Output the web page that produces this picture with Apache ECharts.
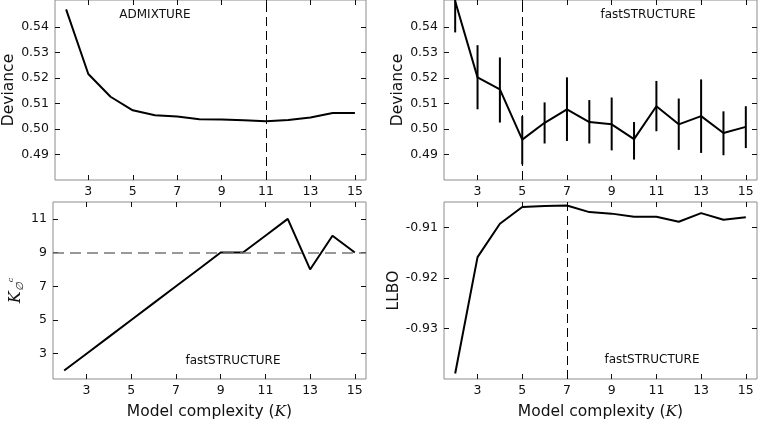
<!DOCTYPE html>
<html><head><meta charset="utf-8">
<script src="https://cdn.jsdelivr.net/npm/echarts@6/dist/echarts.min.js"></script>
<style>html,body{margin:0;padding:0;background:#fff}#c{width:759px;height:421px}</style>
</head><body><div id="c"></div>
<script>
// ---- data ----
const K = [2,3,4,5,6,7,8,9,10,11,12,13,14,15];
const admixDeviance = [0.5468,0.5215,0.5126,0.5073,0.5054,0.5049,0.5038,0.5037,0.5034,0.5030,0.5035,0.5045,0.5062,0.5062];
const fastDevianceMean = [0.5500,0.5202,0.5155,0.4958,0.5024,0.5077,0.5027,0.5018,0.4960,0.5089,0.5018,0.5050,0.4984,0.5008];
const fastDevianceLow  = [0.5378,0.5077,0.5025,0.4861,0.4943,0.4953,0.4943,0.4916,0.4880,0.4991,0.4918,0.4906,0.4897,0.4925];
const fastDevianceHigh = [0.5622,0.5328,0.5280,0.5050,0.5104,0.5202,0.5113,0.5123,0.5027,0.5188,0.5119,0.5194,0.5069,0.5089];
const kOptimal = [2,3,4,5,6,7,8,9,9,10,11,8,10,9];
const llbo = [-0.9389,-0.9159,-0.9093,-0.9060,-0.9058,-0.9057,-0.9070,-0.9073,-0.9079,-0.9079,-0.9089,-0.9072,-0.9085,-0.9080];
const xTicks = [3,5,7,9,11,13,15];
const devTicks = [0.49,0.50,0.51,0.52,0.53,0.54];
const kTicks = [3,5,7,9,11];
const llboTicks = [-0.93,-0.92,-0.91];
const admixBestK = 11, fastDevBestK = 5, llboBestK = 7, kOptRef = 9;

const FONT = 'DejaVu Sans';
const chart = echarts.init(document.getElementById('c'), null, {renderer:'canvas'});
const grids = [
  {left:53, top:0, width:313, height:180},
  {left:444, top:0, width:313, height:180},
  {left:53, top:202, width:313, height:180},
  {left:444, top:202, width:313, height:180}
];
const gridOpts = grids.map(g => Object.assign({show:true, borderColor:'#8c8c8c', borderWidth:1, backgroundColor:'transparent'}, g));
const tick = (vals) => ({show:true, inside:true, length:5, lineStyle:{color:'#111', width:1}, customValues: vals});
const xAxes = [], yAxes = [];
function addX(gi, showName){
  xAxes.push({type:'value', gridIndex:gi, min:1.5, max:15.5, position:'bottom',
    axisLine:{show:false}, splitLine:{show:false}, axisTick:tick(xTicks),
    axisLabel:{show:true, customValues:xTicks, margin:5, fontFamily:FONT, fontSize:12.5, color:'#111'},
    name: showName ? '{a|Model complexity (}{k|K}{a|)}' : '', nameLocation:'middle', nameGap:25,
    nameTextStyle:{rich:{a:{fontFamily:FONT, fontSize:15.5, color:'#111'}, k:{fontFamily:'DejaVu Serif', fontStyle:'italic', fontSize:15.5, color:'#111'}}}});
  xAxes.push({type:'value', gridIndex:gi, min:1.5, max:15.5, position:'top',
    axisLine:{show:false}, splitLine:{show:false}, axisTick:tick(xTicks), axisLabel:{show:false}});
}
function addY(gi, min, max, ticks, fmt, name, nameGap, nameStyle){
  yAxes.push({type:'value', gridIndex:gi, min:min, max:max, position:'left',
    axisLine:{show:false}, splitLine:{show:false}, axisTick:tick(ticks),
    axisLabel:{show:true, customValues:ticks, margin:6, fontFamily:FONT, fontSize:12.5, color:'#111', formatter:fmt},
    name:name, nameLocation:'middle', nameGap:nameGap, nameRotate:90,
    nameTextStyle: nameStyle});
  yAxes.push({type:'value', gridIndex:gi, min:min, max:max, position:'right',
    axisLine:{show:false}, splitLine:{show:false}, axisTick:tick(ticks), axisLabel:{show:false}});
}
const f2 = v => v.toFixed(2);
const nameStd = {fontFamily:FONT, fontSize:15.5, color:'#111'};
for (let i=0;i<4;i++) addX(i, i>=2);
addY(0, 0.48, 0.5505, devTicks, f2, 'Deviance', 38, nameStd);
addY(1, 0.48, 0.5505, devTicks, f2, 'Deviance', 38, nameStd);
addY(2, 1.5, 12, kTicks, v => String(Math.round(v)), '{k|K}{s|∅}{c|c}', 28,
  {rich:{k:{fontFamily:'DejaVu Serif', fontStyle:'italic', fontSize:16, color:'#111'},
         s:{fontFamily:'DejaVu Serif', fontStyle:'italic', fontSize:10, color:'#111', padding:[8,0,0,0]},
         c:{fontFamily:'DejaVu Serif', fontStyle:'italic', fontSize:8, color:'#111', padding:[0,0,10,0]}}});
addY(3, -0.94, -0.905, llboTicks, f2, 'LLBO', 40, nameStd);

const pairs = arr => K.map((k,i)=>[k, arr[i]]);
const lineStyle = {color:'#000', width:2};
const vDash = (x) => ({silent:true, symbol:'none', label:{show:false},
  lineStyle:{color:'#000', type:[9,5], width:1}, data:[{xAxis:x}]});
const series = [
  {type:'line', xAxisIndex:0, yAxisIndex:0, data:pairs(admixDeviance), symbol:'none', lineStyle, clip:true, markLine:vDash(admixBestK)},
  {type:'line', xAxisIndex:2, yAxisIndex:2, data:pairs(fastDevianceMean), symbol:'none', lineStyle, clip:true, markLine:vDash(fastDevBestK)},
  {type:'custom', xAxisIndex:2, yAxisIndex:2, clip:true,
    data:K.map((k,i)=>[k, fastDevianceLow[i], fastDevianceHigh[i]]),
    renderItem:(params, api) => {
      const lo = api.coord([api.value(0), api.value(1)]);
      const hi = api.coord([api.value(0), api.value(2)]);
      const r = params.coordSys;
      const y1 = Math.max(hi[1], r.y), y2 = Math.min(lo[1], r.y + r.height);
      return {type:'line', shape:{x1:lo[0], y1:y1, x2:lo[0], y2:y2}, style:{stroke:'#000', lineWidth:2}};
    }},
  {type:'line', xAxisIndex:4, yAxisIndex:4, data:pairs(kOptimal), symbol:'none', lineStyle, clip:true,
    markLine:{silent:true, symbol:'none', label:{show:false}, lineStyle:{color:'#777', type:[11,6], width:1.5}, data:[{yAxis:kOptRef}]}},
  {type:'line', xAxisIndex:6, yAxisIndex:6, data:pairs(llbo), symbol:'none', lineStyle, clip:true, markLine:vDash(llboBestK)}
];
chart.setOption({
  animation:false,
  grid:gridOpts, xAxis:xAxes, yAxis:yAxes, series:series,
  graphic:[
    {type:'text', x:155, y:15, style:{text:'ADMIXTURE', font:'12px "DejaVu Sans"', fill:'#111', align:'center', verticalAlign:'middle'}},
    {type:'text', x:648, y:15, style:{text:'fastSTRUCTURE', font:'12px "DejaVu Sans"', fill:'#111', align:'center', verticalAlign:'middle'}},
    {type:'text', x:233, y:361, style:{text:'fastSTRUCTURE', font:'12px "DejaVu Sans"', fill:'#111', align:'center', verticalAlign:'middle'}},
    {type:'text', x:652, y:360, style:{text:'fastSTRUCTURE', font:'12px "DejaVu Sans"', fill:'#111', align:'center', verticalAlign:'middle'}}
  ]
});
</script></body></html>
